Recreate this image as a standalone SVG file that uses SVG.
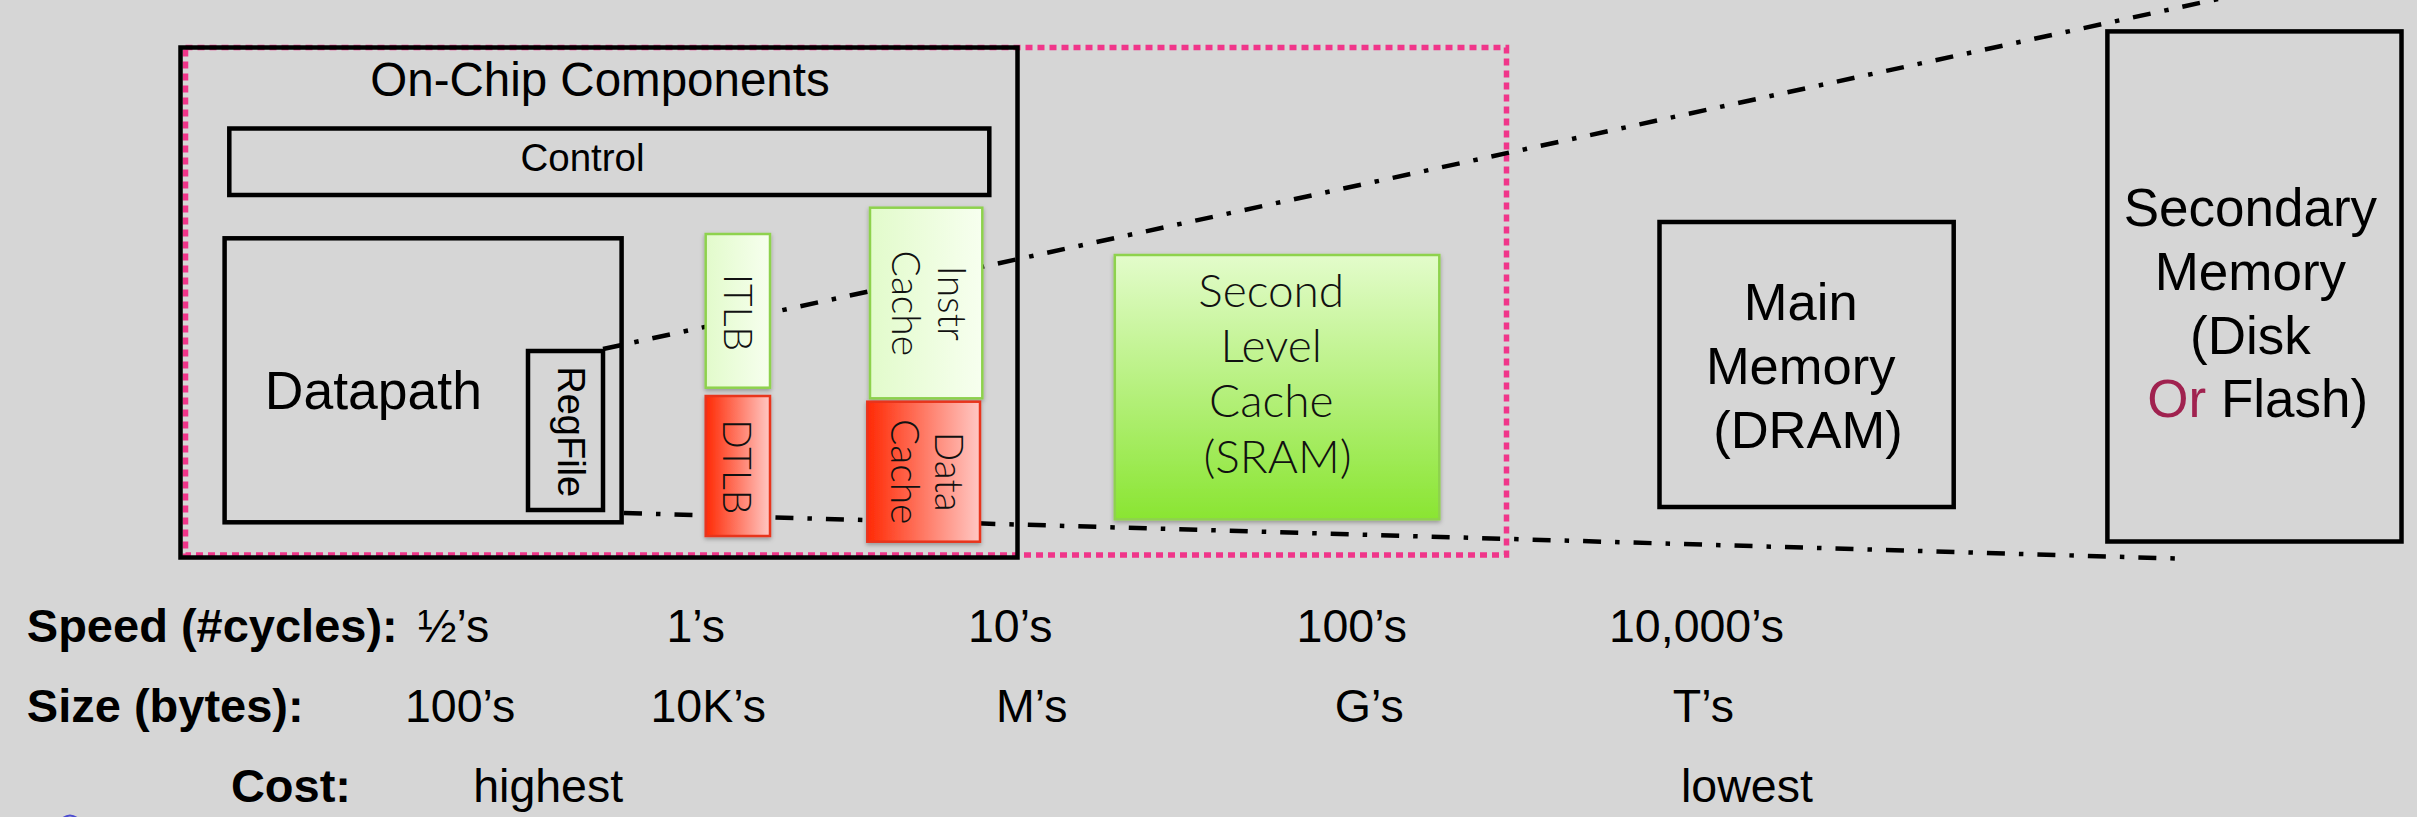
<svg xmlns="http://www.w3.org/2000/svg" width="2417" height="817" viewBox="0 0 2417 817">
<style>
.box{fill:none;stroke:#000;stroke-width:4.5}
.lbl{font-family:"Liberation Sans",Arial,sans-serif;fill:#000}
.gill{font-family:Lato,"Open Sans",sans-serif;font-weight:300;fill:#111}
.bold{font-family:"Liberation Sans",Arial,sans-serif;font-weight:bold;fill:#000}
.conn{fill:none;stroke:#000;stroke-width:4.5;stroke-dasharray:18 14 4.5 14}
.gbox{stroke:#8ed24e;stroke-width:2.5}
.rbox{stroke:#e8341c;stroke-width:2.5}
</style>
<defs>
<linearGradient id="lg" x1="0" y1="0" x2="1" y2="0">
<stop offset="0" stop-color="#e2fbcb"/><stop offset="1" stop-color="#f7ffef"/>
</linearGradient>
<linearGradient id="rg" x1="0" y1="0" x2="1" y2="0">
<stop offset="0" stop-color="#ff2a05"/><stop offset="1" stop-color="#ffc8c4"/>
</linearGradient>
<linearGradient id="l2g" x1="0" y1="0" x2="0" y2="1">
<stop offset="0" stop-color="#e3fccb"/><stop offset="1" stop-color="#8ae532"/>
</linearGradient>
<filter id="sh" x="-10%" y="-10%" width="130%" height="130%">
<feDropShadow dx="0" dy="2" stdDeviation="2" flood-color="#000" flood-opacity="0.3"/>
</filter>
</defs>
<rect width="2417" height="817" fill="#d6d6d6"/>

<g id="onchip-region">
<rect x="185.5" y="47.5" width="1321" height="507.5" fill="none" stroke="#f0368a" stroke-width="5.5" stroke-dasharray="7 5"/>
</g>
<g id="onchip">
<rect class="box" x="180.5" y="47.5" width="837" height="510"/>
<text class="lbl" x="600" y="96" font-size="47.5" text-anchor="middle">On-Chip Components</text>
</g>

<g id="connectors">
<line class="conn" x1="603" y1="349" x2="2218" y2="-1"/>
<line class="conn" x1="624" y1="513" x2="2176" y2="558.5"/>
</g>

<g id="control">
<rect class="box" x="229.3" y="128.5" width="760" height="66.5"/>
<text class="lbl" x="582.5" y="170.7" font-size="38.5" text-anchor="middle">Control</text>
</g>

<g id="datapath">
<rect class="box" x="224.6" y="238.3" width="397" height="284" stroke-width="5"/>
<text class="lbl" x="264.8" y="409" font-size="53.5">Datapath</text>
</g>

<g id="regfile">
<rect class="box" x="528" y="351" width="75" height="159" stroke-width="5"/>
<text class="lbl" font-size="38" text-anchor="middle" transform="translate(558.3,431.7) rotate(90)">RegFile</text>
</g>

<g id="itlb">
<rect class="gbox" x="705.7" y="234" width="64.3" height="153.7" fill="url(#lg)" filter="url(#sh)"/>
<text class="gill" font-size="39" text-anchor="middle" transform="translate(724.3,312.5) rotate(90)">ITLB</text>
</g>

<g id="dtlb">
<rect class="rbox" x="705.7" y="396" width="64.3" height="140" fill="url(#rg)" filter="url(#sh)"/>
<text class="gill" font-size="39" text-anchor="middle" transform="translate(723.3,466.8) rotate(90)">DTLB</text>
</g>

<g id="icache">
<rect class="gbox" x="870" y="207.7" width="112.3" height="190.6" fill="url(#lg)" filter="url(#sh)"/>
<text class="gill" font-size="39" text-anchor="middle" transform="translate(937.7,303.3) rotate(90)">Instr</text>
<text class="gill" font-size="39" text-anchor="middle" transform="translate(892.3,303.3) rotate(90)">Cache</text>
</g>

<g id="dcache">
<rect class="rbox" x="867.3" y="401.7" width="112.7" height="140" fill="url(#rg)" filter="url(#sh)"/>
<text class="gill" font-size="39" text-anchor="middle" transform="translate(935,471.7) rotate(90)">Data</text>
<text class="gill" font-size="39" text-anchor="middle" transform="translate(891,471.7) rotate(90)">Cache</text>
</g>

<g id="l2cache">
<rect class="gbox" x="1114.8" y="255" width="324.5" height="264.3" fill="url(#l2g)" filter="url(#sh)"/>
<text class="gill" font-size="46" text-anchor="middle" x="1277.5">
<tspan x="1277.5" y="306.7">Second</tspan>
<tspan x="1277.5" y="361.7">Level</tspan>
<tspan x="1277.5" y="417.3">Cache</tspan>
<tspan x="1277.5" y="472.7">(SRAM)</tspan>
</text>
</g>

<g id="mainmem">
<rect class="box" x="1659.5" y="222" width="294.2" height="285" stroke-width="5"/>
<text class="lbl" font-size="52.5" text-anchor="middle">
<tspan x="1808" y="319.5">Main</tspan>
<tspan x="1808" y="383.8">Memory</tspan>
<tspan x="1808" y="447.7">(DRAM)</tspan>
</text>
</g>

<g id="secmem">
<rect class="box" x="2107.4" y="31.4" width="294.1" height="510.1" stroke-width="5"/>
<text class="lbl" font-size="53" text-anchor="middle">
<tspan x="2257.8" y="225.8">Secondary</tspan>
<tspan x="2257.8" y="289.7">Memory</tspan>
<tspan x="2257.8" y="354">(Disk</tspan>
<tspan x="2257.8" y="416.7"><tspan fill="#a0224f">Or</tspan> Flash)</tspan>
</text>
</g>

<g id="metrics">
<text class="bold" x="26.8" y="641.7" font-size="47">Speed (#cycles):</text>
<text class="lbl" x="417.7" y="641.7" font-size="46.5">½’s</text>
<text class="lbl" x="666.5" y="641.7" font-size="46.5">1’s</text>
<text class="lbl" x="968" y="641.7" font-size="46.5">10’s</text>
<text class="lbl" x="1296.6" y="641.7" font-size="46.5">100’s</text>
<text class="lbl" x="1609" y="641.7" font-size="46.5">10,000’s</text>

<text class="bold" x="26.8" y="721.7" font-size="47">Size (bytes):</text>
<text class="lbl" x="405" y="721.7" font-size="46.5">100’s</text>
<text class="lbl" x="650.5" y="721.7" font-size="46.5">10K’s</text>
<text class="lbl" x="996" y="721.7" font-size="46.5">M’s</text>
<text class="lbl" x="1334.8" y="721.7" font-size="46.5">G’s</text>
<text class="lbl" x="1672.8" y="721.7" font-size="46.5">T’s</text>

<text class="bold" x="230.9" y="802" font-size="47">Cost:</text>
<text class="lbl" x="473.2" y="802" font-size="46.5">highest</text>
<text class="lbl" x="1681" y="802" font-size="46.5">lowest</text>
</g>
<path d="M63,818 Q70,813 77,818" fill="none" stroke="#4a4ad0" stroke-width="2"/>
</svg>
